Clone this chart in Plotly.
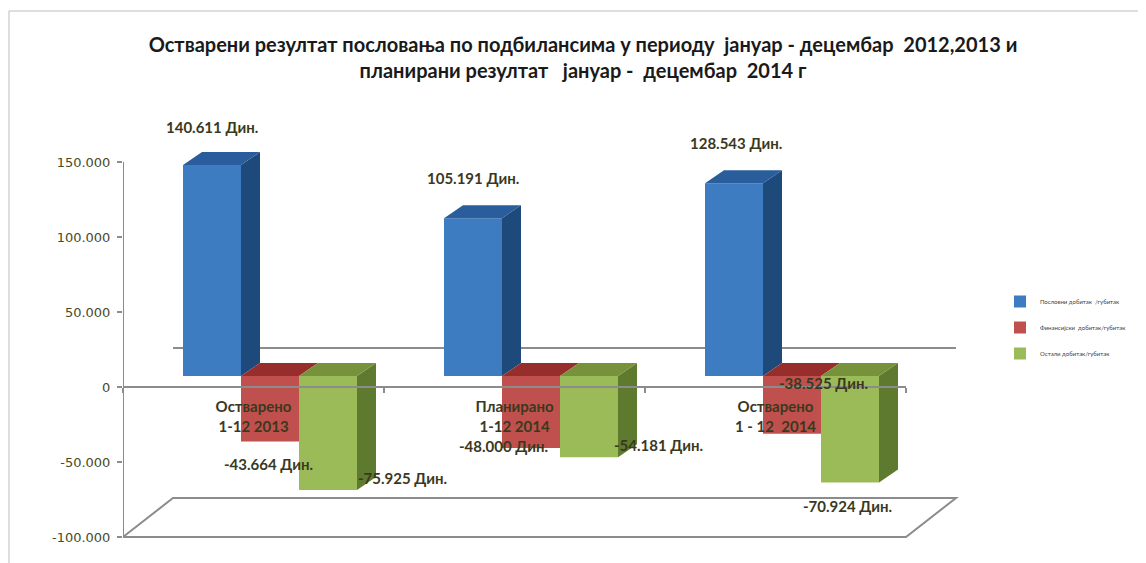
import plotly.graph_objects as go

# ---------------- data ----------------
categories = ["Остварено<br>1-12 2013", "Планирано<br>1-12 2014", "Остварено<br>1 - 12  2014"]
series_names = ["Пословни добитак  /губитак", "Финансијски  добитак/губитак", "Остали добитак/губитак"]
poslovni = [140611, 105191, 128543]
finansijski = [-43664, -48000, -38525]
ostali = [-75925, -54181, -70924]
y_ticks = [-100000, -50000, 0, 50000, 100000, 150000]

series_values = [poslovni, finansijski, ostali]

# ---------------- styles ----------------
front_colors = ["#3D7CC1", "#C0504D", "#9BBB59"]
side_colors = ["#1D4A7A", "#8A2A28", "#5E7A2F"]
top_colors = ["#2A5D9B", "#982E2B", "#76933C"]
label_color = "#3A391E"
axis_gray = "#8C8C8C"

# label offsets in pixels (xshift, yshift) per series per category
label_offsets = [
    [(0, 38), (0, 40), (2, 40)],
    [(-2, -22), (-28, 2), (31, 51)],
    [(74, 12), (69, 12), (-3, -24)],
]

# ---------------- geometry (pixels; page places the figure at +8,+8) ----------------
OFF = 8
W, H = 1146 - OFF, 563 - OFF
PLOT_L, PLOT_R, PLOT_T, PLOT_B = 123 - OFF, 960 - OFF, 140 - OFF, 545 - OFF
PX_PER_CAT = 261.0
PX_PER_VAL = 0.0015
ZERO_PX = 387 - OFF
BAR_SHIFT_X, BAR_SHIFT_Y = 16.5, 11
DEPTH_X, DEPTH_Y = 19, 13
BACK_X, BACK_Y = 50, 39

x_rng = [-0.5, -0.5 + (PLOT_R - PLOT_L) / PX_PER_CAT]
y_rng = [-(PLOT_B - ZERO_PX) / PX_PER_VAL, (ZERO_PX - PLOT_T) / PX_PER_VAL]
x2_rng = [v - BAR_SHIFT_X / PX_PER_CAT for v in x_rng]
y2_rng = [v - BAR_SHIFT_Y / PX_PER_VAL for v in y_rng]

DX = DEPTH_X / PX_PER_CAT
DY = DEPTH_Y / PX_PER_VAL
BX = BACK_X / PX_PER_CAT
BY = BACK_Y / PX_PER_VAL

BARGAP = 1 - 3 * 58 / PX_PER_CAT
BW = (1 - BARGAP) / 3


def paper_x(px):
    return (px - OFF - PLOT_L) / (PLOT_R - PLOT_L)


def paper_y(py):
    return (PLOT_B - (py - OFF)) / (PLOT_B - PLOT_T)


fig = go.Figure()
xs = list(range(len(categories)))

# front faces (real bars)
for i, (name, vals) in enumerate(zip(series_names, series_values)):
    fig.add_trace(go.Bar(
        x=xs, y=vals, name=name, xaxis="x2", yaxis="y2",
        marker=dict(color=front_colors[i], line=dict(width=0)),
        legendgroup=f"g{i}", hoverinfo="x+y",
    ))

# 3D side and top faces derived from the data
for i, vals in enumerate(series_values):
    side_x, side_y, top_x, top_y = [], [], [], []
    for k, v in enumerate(vals):
        xl = k + (i - 1) * BW - BW / 2
        xr = xl + BW
        hidden = False
        if i + 1 < len(series_values):
            nv = series_values[i + 1][k]
            if (nv < 0) == (v < 0) and abs(nv) >= abs(v):
                hidden = True
        if not hidden:
            side_x += [xr, xr + DX, xr + DX, xr, xr, None]
            side_y += [0, DY, v + DY, v, 0, None]
        yt = max(v, 0)
        top_x += [xl, xl + DX, xr + DX, xr, xl, None]
        top_y += [yt, yt + DY, yt + DY, yt, yt, None]
    for fx, fy, col in ((side_x, side_y, side_colors[i]), (top_x, top_y, top_colors[i])):
        if fx:
            fig.add_trace(go.Scatter(
                x=fx, y=fy, xaxis="x2", yaxis="y2", mode="lines",
                fill="toself", fillcolor=col, line=dict(width=0, color=col),
                hoverinfo="skip", showlegend=False,
            ))

# value labels
annotations = []
for i, vals in enumerate(series_values):
    for k, v in enumerate(vals):
        xc = k + (i - 1) * BW
        txt = f"{v:,}".replace(",", ".") + " Дин."
        dx, dy = label_offsets[i][k]
        annotations.append(dict(
            x=xc, y=v, xref="x2", yref="y2", text=txt, showarrow=False,
            xshift=dx, yshift=dy, xanchor="center", yanchor="middle",
            font=dict(family="Lato", size=15, color=label_color, weight="bold"),
        ))

shapes = []
line_style = dict(color=axis_gray, width=2)
# floor
floor_pts = [(-0.5, y_ticks[0]), (2.5, y_ticks[0]), (2.5 + BX, y_ticks[0] + BY), (-0.5 + BX, y_ticks[0] + BY)]
path = "M " + " L ".join(f"{a},{b}" for a, b in floor_pts) + " Z"
shapes.append(dict(type="path", path=path, xref="x", yref="y", line=line_style, layer="below"))
# back wall zero line
shapes.append(dict(type="line", x0=-0.5 + BX, x1=2.5 + BX, y0=BY, y1=BY, xref="x", yref="y",
                   line=line_style, layer="below"))
# front zero line
shapes.append(dict(type="line", x0=-0.5, x1=2.5, y0=0, y1=0, xref="x", yref="y",
                   line=line_style, layer="above"))
# value axis line
shapes.append(dict(type="line", x0=-0.5, x1=-0.5, y0=y_ticks[0], y1=y_ticks[-1], xref="x", yref="y",
                   line=line_style, layer="above"))
# chart frame
frame = dict(color="#BDBDBD", width=1)
shapes.append(dict(type="line", x0=paper_x(9), x1=paper_x(1150), y0=paper_y(11), y1=paper_y(11),
                   xref="paper", yref="paper", line=frame))
shapes.append(dict(type="line", x0=paper_x(9), x1=paper_x(9), y0=paper_y(11), y1=paper_y(570),
                   xref="paper", yref="paper", line=frame))

title_text = ("Остварени резултат пословања по подбилансима у периоду  јануар - децембар  2012,2013 и"
              "<br>планирани резултат   јануар -  децембар  2014 г")

fig.update_layout(
    width=W, height=H,
    margin=dict(l=PLOT_L, r=W - PLOT_R, t=PLOT_T, b=H - PLOT_B, pad=0),
    paper_bgcolor="white", plot_bgcolor="white",
    barmode="group", bargap=BARGAP, bargroupgap=0,
    title=dict(text=title_text, x=(583 - OFF) / W, xanchor="center", xref="container",
               y=1 - (52 - OFF) / H, yanchor="top", yref="container",
               font=dict(family="Lato", size=20, color="#1A1A1A", weight="bold")),
    xaxis=dict(range=x_rng, tickvals=xs, ticktext=categories, ticks="",
               anchor="free", position=(0 - y_rng[0]) / (y_rng[1] - y_rng[0]),
               showgrid=False, zeroline=False, showline=False,
               ticklabelstandoff=9,
               tickfont=dict(family="Lato", size=15, color=label_color, weight="bold"),
               minor=dict(tickvals=[-0.5, 0.5, 1.5, 2.5], ticks="outside", ticklen=5,
                          tickcolor=axis_gray, tickwidth=2, showgrid=False)),
    yaxis=dict(range=y_rng, tickvals=y_ticks, ticktext=[f"{v:,}".replace(",", ".") for v in y_ticks],
               ticks="outside", ticklen=5, tickcolor=axis_gray, tickwidth=2,
               showgrid=False, zeroline=False, showline=False, ticklabelstandoff=4,
               tickfont=dict(family="DejaVu Sans", size=13, color="#4A4A2A")),
    xaxis2=dict(range=x2_rng, overlaying="x", anchor="y2", visible=False),
    yaxis2=dict(range=y2_rng, overlaying="y", anchor="x2", visible=False),
    legend=dict(x=paper_x(1000), y=paper_y(287), xanchor="left", yanchor="top",
                font=dict(family="Lato", size=6, color="#404040"),
                traceorder="grouped", tracegroupgap=7, bgcolor="rgba(0,0,0,0)"),
    annotations=annotations,
    shapes=shapes,
    showlegend=True,
)

fig.write_html("out.html")
